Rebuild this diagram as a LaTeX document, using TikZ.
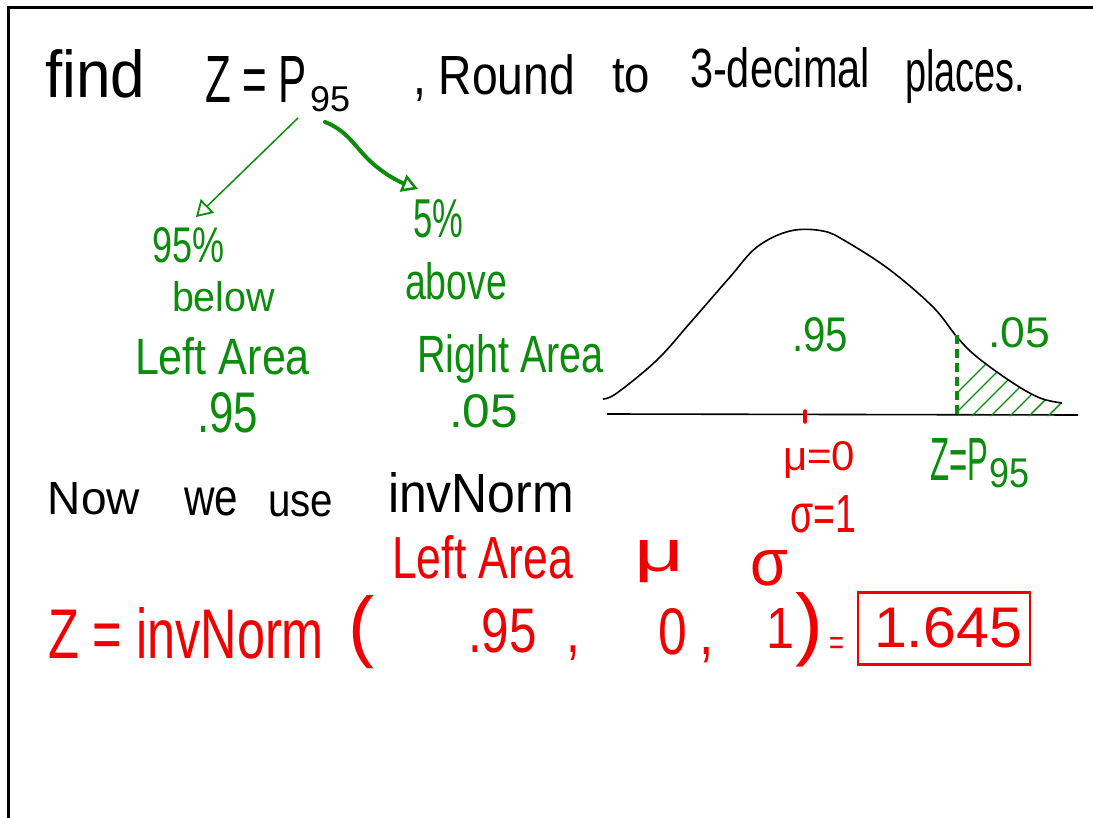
\documentclass[tikz,border=0pt]{standalone}
\usepackage{fontspec}
\setmainfont{Liberation Sans}
\usepackage{graphicx}
\usetikzlibrary{arrows.meta}
\definecolor{pgreen}{RGB}{12,140,12}
\definecolor{pred}{RGB}{240,0,0}
\newcommand{\fw}[3]{\resizebox{#1pt}{#2pt}{#3}}
\tikzset{
  txt/.style={inner sep=0pt, outer sep=0pt, anchor=base west},
  blk/.style={txt, text=black},
  grn/.style={txt, text=pgreen},
  rd/.style={txt, text=pred},
  thinarrow/.style={draw=pgreen, line width=1.5pt, -{Triangle[open, length=16pt, width=19pt, line width=1.8pt]}},
  thickarrow/.style={draw=pgreen, line width=4pt, line cap=round, -{Triangle[open, length=16pt, width=18pt, line width=2.5pt]}},
  curve/.style={draw=black, line width=1.6pt, line join=round},
  hatch/.style={draw=pgreen, line width=1.4pt},
}
\begin{document}
\begin{tikzpicture}[x=1pt, y=-1pt]
\useasboundingbox (0,0) rectangle (1093,818);
\fill[white] (0,0) rectangle (1093,818);
% frame
\draw[line width=3pt] (8.5,818) -- (8.5,7.5) -- (1093,7.5);

% title
\node[blk] (find) at (45,98) {\fw{100}{48}{find}};
\node[blk] (zp) at (205,103) {\fw{102}{46}{Z = P}};
\node[blk] (zpsub) at (310,112) {\fw{40}{25}{95}};
\node[blk] (round) at (413,95) {\fw{162}{40}{, Round}};
\node[blk] (to) at (612,93) {\fw{38}{33}{to}};
\node[blk] (dec) at (690,88) {\fw{180}{40}{3-decimal}};
\node[blk] (places) at (905,92) {\fw{120}{42}{places.}};

% tree
\coordinate (lstart) at (298,118);
\coordinate (lend) at (196,217);
\coordinate (rstart) at (325,122);
\coordinate (rend) at (418,189);
\draw[thinarrow] (lstart) -- (lend);
\draw[thickarrow] (rstart) .. controls (345,130) and (352,142) .. (365,156) .. controls (378,170) and (395,180) .. (rend);

\node[grn] (p95) at (152,263) {\fw{72}{35}{95\%}};
\node[grn] (below) at (172,312) {\fw{103}{30}{below}};
\node[grn] (leftarea) at (135,375) {\fw{175}{37}{Left Area}};
\node[grn] (l95) at (197,433) {\fw{61}{40}{.95}};

\node[grn] (p5) at (413,238) {\fw{50}{38}{5\%}};
\node[grn] (above) at (405,300) {\fw{102}{37}{above}};
\node[grn] (rightarea) at (417,373) {\fw{187}{38}{Right Area}};
\node[grn] (r05) at (449,428) {\fw{69}{33}{.05}};

% normal curve
\coordinate (axl) at (607,414);
\coordinate (axr) at (1078,415);
\draw[line width=1.6pt] (axl) -- (axr);
\begin{scope}
\clip (957,416) -- (957,337) -- plot[smooth] coordinates {(957,337) (977,357) (1013,383) (1040,398) (1062,403)} -- (1062,416) -- cycle;
\foreach \i in {0,...,8} \draw[hatch] (930+\i*19,420) -- ++(70,-70);
\end{scope}
\draw[curve] plot[smooth, tension=0.6] coordinates {(603,399) (617,393) (657,360) (690,323) (730,277) (757,247) (790,231) (823,231) (847,242) (890,270) (933,307) (957,337) (977,357) (1013,383) (1040,398) (1062,403)};
\coordinate (ztop) at (957,335);
\coordinate (zbot) at (957,418);
\draw[pgreen, line width=3.5pt, dash pattern=on 9pt off 5pt] (ztop) -- (zbot);
\coordinate (mtop) at (805,411);
\coordinate (mbot) at (805,422);
\draw[pred, line width=3.5pt, line cap=round] (mtop) -- (mbot);

\node[grn] (c95) at (792,352) {\fw{56}{34}{.95}};
\node[grn] (c05) at (988,348) {\fw{62}{30}{.05}};
\node[rd] (mu0) at (783,471) {\fw{72}{29}{μ=0}};
\node[rd] (sig1) at (790,532) {\fw{66}{37}{σ=1}};
\node[grn] (zp2) at (930,480) {\fw{58}{42}{Z=P}};
\node[grn] (zp2sub) at (989,487) {\fw{40}{29}{95}};

% now we use
\node[blk] (now) at (48,514) {\fw{92}{32}{Now}};
\node[blk] (we) at (184,515) {\fw{54}{28}{we}};
\node[blk] (use) at (268,516) {\fw{65}{25}{use}};
\node[blk] (inv) at (388,512) {\fw{186}{40}{invNorm}};

% red labels
\node[rd] (la) at (392,578) {\fw{181}{43}{Left Area}};
\node[rd] (mu) at (634,571) {\fw{50}{31}{μ}};
\node[rd] (sig) at (750,585) {\fw{38}{35}{σ}};

% equation
\node[rd] (eqz) at (48,658) {\fw{276}{51}{Z = invNorm}};
\node[rd] (lp) at (348,652) {\fw{26}{57}{(}};
\node[rd] (v95) at (468,652) {\fw{112}{44}{.95\hspace{0.6em},}};
\node[rd] (v0) at (658,654) {\fw{56}{46}{0\hspace{0.25em},}};
\node[rd] (v1) at (766,648) {\fw{28}{40}{1}};
\node[rd] (rp) at (795,650) {\fw{28}{58}{)}};
\node[rd] (eq) at (829,654) {\fw{15}{17}{=}};
\node[draw=pred, line width=2.6pt, minimum width=172pt, minimum height=72pt, inner sep=0pt] (box) at (944,628.5) {};
\node[rd] (ans) at (874,647) {\fw{148}{40}{1.645}};
\end{tikzpicture}
\end{document}
